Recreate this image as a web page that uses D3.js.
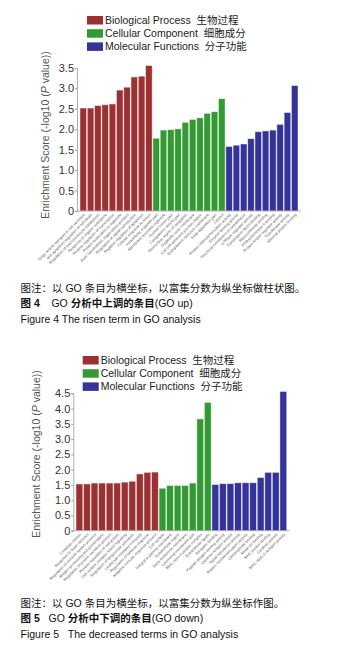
<!DOCTYPE html>
<html>
<head>
<meta charset="utf-8">
<script src="https://cdn.jsdelivr.net/npm/d3@7/dist/d3.min.js"></script>
<style>
  body { margin: 0; background: #fff; }
  svg { display: block; font-family: "Liberation Sans", Arial, "Noto Sans CJK SC", sans-serif; }
  .cn { font-family: "Liberation Sans", "Noto Sans CJK SC", sans-serif; }
</style>
</head>
<body>
<div id="chart"></div>
<script>
// Data
const groups = ['Biological Process', 'Cellular Component', 'Molecular Functions']
const groupsCn = ['生物过程', '细胞成分', '分子功能']
const colors = ['#9b3133', '#339a33', '#333399']

const upBP = [2.52, 2.52, 2.58, 2.60, 2.62, 2.96, 3.03, 3.28, 3.30, 3.56]
const upCC = [1.78, 1.98, 1.99, 2.01, 2.17, 2.24, 2.28, 2.39, 2.43, 2.75]
const upMF = [1.58, 1.61, 1.64, 1.77, 1.94, 1.96, 1.98, 2.12, 2.41, 3.07]
const upTerms = [
  'Golgi vesicle transport in cell secretion', 'anti-apoptosis regulation of cell death', 'Regulation of macromolecule metabolism',
  'Response to organic substance', 'Positive regulation of transcription', 'Protein localization to organelle',
  'Actin cytoskeleton organization process', 'Regulation of signal transduction', 'Negative regulation of apoptosis', 'Cellular response to stress',
  'Intracellular organelle part', 'Membrane-bounded organelle', 'Nuclear lumen part', 'Cytoplasmic vesicle part',
  'Perinuclear region of cytoplasm', 'Organelle outer membrane', 'Cell-cell adherens junction region',
  'Endoplasmic reticulum membrane', 'Golgi apparatus part', 'Cytosol',
  'Protein heterodimerization activity', 'Enzyme binding activity', 'Structural constituent of cytoskeleton', 'GTPase regulator activity',
  'Transcription factor binding', 'Ribonucleotide binding', 'RNA polymerase II binding', 'Protein kinase regulator activity',
  'Transferase activity', 'Identical protein binding'
]

const downBP = [1.53, 1.53, 1.56, 1.56, 1.56, 1.56, 1.59, 1.62, 1.86, 1.91, 1.92]
const downCC = [1.39, 1.48, 1.48, 1.48, 1.56, 3.66, 4.20]
const downMF = [1.51, 1.54, 1.54, 1.57, 1.57, 1.57, 1.74, 1.91, 1.91, 4.56]
const downTerms = [
  'Circadian rhythm', 'Response to biotic stimulus', 'Regulation of immune system process', 'Antigen processing and presentation',
  'Regulation of protein secretion process', 'Positive regulation of cell growth', 'Cell surface receptor linked signaling',
  'Regulation of lymphocyte activation', 'Leukocyte mediated immunity', 'Regulation of defense response', 'Adaptive immune response process',
  'Cell surface', 'Integral to plasma membrane', 'Extracellular region', 'Early endosome membrane',
  'Lysosomal membrane part', 'MHC class II protein complex', 'Extracellular space',
  'Receptor binding', 'Peptide antigen binding activity', 'Cytokine receptor activity', 'Signal transducer activity',
  'Protein homodimerization activity', 'Carbohydrate binding', 'Metal ion binding', 'MHC protein binding',
  'Cytokine activity', 'MHC class II receptor activity'
]

const W = 361, H = 663
const svg = d3.select('#chart').append('svg').attr('width', W).attr('height', H)

function drawChart(opt) {
  const series = [opt.bp, opt.cc, opt.mf]
  const rows = []
  series.forEach((vals, gi) => vals.forEach(v => rows.push({ g: gi, v: v })))
  rows.forEach((r, i) => r.term = opt.terms[i])

  const x = d3.scaleBand()
    .domain(rows.map((d, i) => i))
    .range([opt.x0, opt.x1])
    .paddingInner(0.1)
  const y = d3.scaleLinear()
    .domain([0, opt.max])
    .range([opt.y0, opt.yTop])

  const g = svg.append('g')

  // bars
  g.selectAll('rect.bar')
    .data(rows)
    .join('rect')
    .attr('class', 'bar')
    .attr('x', (d, i) => x(i))
    .attr('y', d => y(d.v))
    .attr('width', x.bandwidth())
    .attr('height', d => y(0) - y(d.v))
    .attr('fill', d => colors[d.g])
    .attr('stroke', 'rgba(255,255,255,0.55)')
    .attr('stroke-width', 0.8)

  // y axis
  const yAxis = d3.axisLeft(y)
    .tickValues(d3.range(0, opt.max + 0.01, 0.5))
    .tickFormat(d => d === 0 ? '0' : d3.format('.1f')(d))
    .tickSize(2)
    .tickPadding(1)
  const ya = g.append('g')
    .attr('transform', `translate(${opt.axisX},0)`)
    .call(yAxis)
  ya.select('.domain').attr('stroke', '#999').attr('stroke-width', 0.8)
  ya.selectAll('.tick line').attr('stroke', '#999')
  ya.selectAll('.tick text').attr('fill', '#333').style('font-size', '11px')

  // x axis line
  g.append('line')
    .attr('x1', opt.axisX).attr('x2', opt.x1 + 3)
    .attr('y1', y(0)).attr('y2', y(0))
    .attr('stroke', '#999').attr('stroke-width', 0.8)

  // term labels
  g.selectAll('text.term')
    .data(rows)
    .join('text')
    .attr('class', 'term')
    .attr('text-anchor', 'end')
    .attr('transform', (d, i) => `translate(${x(i) + x.bandwidth() / 2 + 2},${y(0) + 4}) rotate(-45)`)
    .style('font-size', '3.8px')
    .attr('fill', '#555')
    .text(d => d.term)

  // y title
  const t = g.append('text')
    .attr('transform', `translate(${opt.titleX},${opt.titleY}) rotate(-90)`)
    .attr('text-anchor', 'middle')
    .attr('fill', '#555')
    .style('font-size', '10.5px')
  t.append('tspan').text('Enrichment Score (-log10 (')
  t.append('tspan').style('font-style', 'italic').text('P')
  t.append('tspan').text(' value))')

  // legend
  const lg = g.append('g').attr('transform', `translate(${opt.legX},${opt.legY})`)
  groups.forEach((name, i) => {
    lg.append('rect')
      .attr('x', 0).attr('y', i * 13.2)
      .attr('width', 16).attr('height', 8.5)
      .attr('fill', colors[i])
    lg.append('text')
      .attr('class', 'cn')
      .attr('x', 18).attr('y', i * 13.2 + 8)
      .attr('fill', '#222')
      .style('font-size', '10.5px')
      .text(name + '\u00a0\u00a0' + groupsCn[i])
  })

  // captions (parts: [text, bold])
  opt.captions.forEach((c, i) => {
    const ct = svg.append('text')
      .attr('class', 'cn')
      .attr('x', 20.5).attr('y', opt.capY + i * 15.3)
      .attr('fill', '#111')
      .style('font-size', '10.5px')
    c.forEach(p => {
      ct.append('tspan')
        .style('font-weight', p[1] ? 'bold' : 'normal')
        .text(p[0])
    })
  })
}

drawChart({
  bp: upBP, cc: upCC, mf: upMF, terms: upTerms, max: 3.5,
  x0: 80, x1: 298, y0: 211, yTop: 68, axisX: 77,
  titleX: 49, titleY: 135,
  legX: 87, legY: 16,
  capY: 292,
  captions: [
    [['图注：以 GO 条目为横坐标，以富集分数为纵坐标做柱状图。', false]],
    [['图 4\u00a0\u00a0\u00a0\u00a0', true], ['GO ', false], ['分析中上调的条目', true], ['(GO up)', false]],
    [['Figure 4 The risen term in GO analysis', false]]
  ]
})

drawChart({
  bp: downBP, cc: downCC, mf: downMF, terms: downTerms, max: 4.5,
  x0: 76, x1: 286.7, y0: 530.7, yTop: 393.3, axisX: 73.3,
  titleX: 40, titleY: 454,
  legX: 82.7, legY: 356,
  capY: 607,
  captions: [
    [['图注：以 GO 条目为横坐标，以富集分数为纵坐标作图。', false]],
    [['图 5\u00a0\u00a0\u00a0', true], ['GO ', false], ['分析中下调的条目', true], ['(GO down)', false]],
    [['Figure 5\u00a0\u00a0\u00a0The decreased terms in GO analysis', false]]
  ]
})
</script>
</body>
</html>
